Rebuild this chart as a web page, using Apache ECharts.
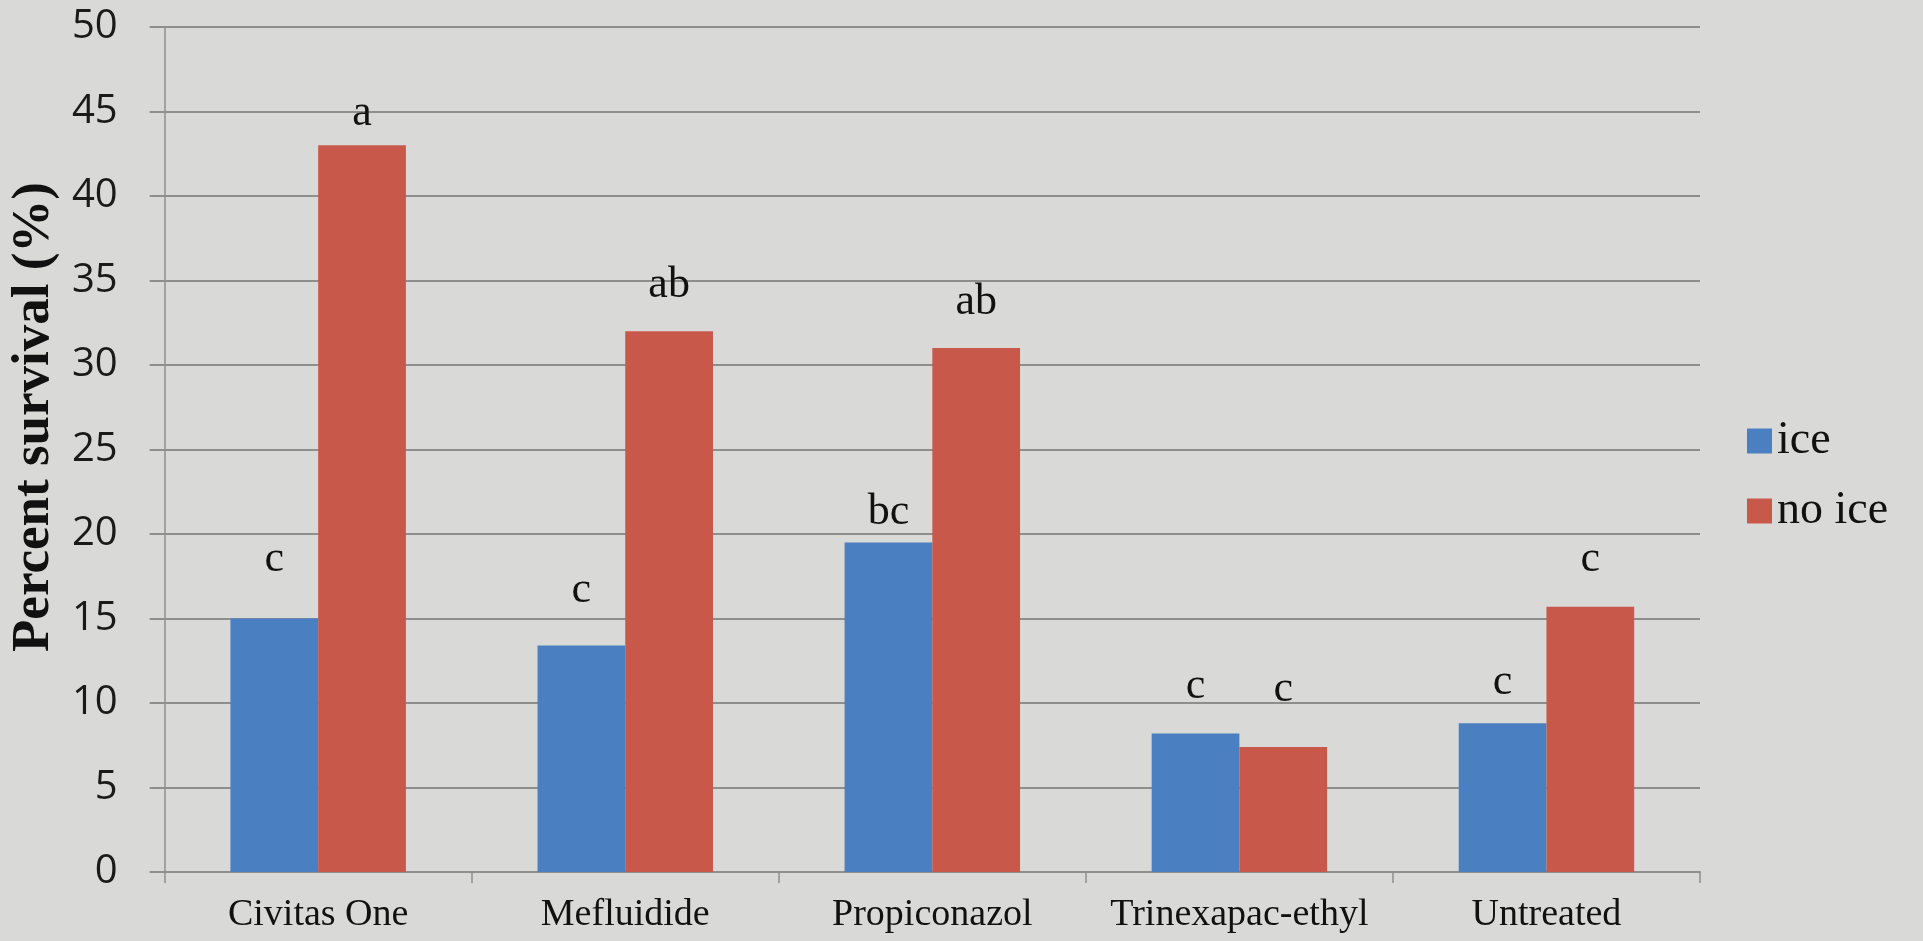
<!DOCTYPE html>
<html>
<head>
<meta charset="utf-8">
<script src="https://cdn.jsdelivr.net/npm/echarts@6/dist/echarts.min.js"></script>
<style>
html,body{margin:0;padding:0;background:#D9D9D7;}
#chart{width:1923px;height:941px;}
</style>
</head>
<body>
<div id="chart"></div>
<script>
// ---- data ----
const categories = ['Civitas One', 'Mefluidide', 'Propiconazol', 'Trinexapac-ethyl', 'Untreated'];
const seriesNames = ['ice', 'no ice'];
const iceValues = [15, 13.4, 19.5, 8.2, 8.8];
const noIceValues = [43, 32, 31, 7.4, 15.7];
// significance letters and the level (percent) of each letter's baseline
const iceLetters = ['c', 'c', 'bc', 'c', 'c'];
const noIceLetters = ['a', 'ab', 'ab', 'c', 'c'];
const iceLetterLevel = [17.6, 15.8, 20.4, 10.1, 10.3];
const noIceLetterLevel = [44.0, 33.8, 32.8, 9.9, 17.6];
const yTicks = [0, 5, 10, 15, 20, 25, 30, 35, 40, 45, 50];

const BLUE = '#4A7FC1';
const RED = '#C8584A';
const GRID = '#8E8E8E';

const gapIce = iceLetterLevel.map((v, i) => +(v - iceValues[i]).toFixed(3));
const gapNoIce = noIceLetterLevel.map((v, i) => +(v - noIceValues[i]).toFixed(3));

function letterLabel(letters) {
  return {
    show: true,
    position: 'top',
    distance: 0,
    offset: [0, 7],
    fontFamily: '"Liberation Serif", "Times New Roman", serif',
    fontSize: 44,
    color: '#111',
    formatter: p => letters[p.dataIndex]
  };
}

const chart = echarts.init(document.getElementById('chart'), null, {renderer: 'canvas'});
chart.setOption({
  backgroundColor: '#D9D9D7',
  animation: false,
  grid: {left: 164, right: 223, top: 27, bottom: 69, containLabel: false},
  legend: {
    data: seriesNames,
    orient: 'vertical',
    left: 1742,
    top: 413,
    itemWidth: 25,
    itemHeight: 25,
    itemGap: 24,
    icon: 'rect',
    textStyle: {
      fontFamily: '"Liberation Serif", "Times New Roman", serif',
      fontSize: 46,
      lineHeight: 46,
      color: '#111',
      padding: [0, 0, 0, 0]
    }
  },
  xAxis: {
    type: 'category',
    data: categories,
    axisLine: {show: true, lineStyle: {color: GRID, width: 2}},
    axisTick: {show: true, interval: 0, length: 11, lineStyle: {color: GRID, width: 1.5}},
    axisLabel: {
      interval: 0,
      margin: 24,
      fontFamily: '"Liberation Serif", "Times New Roman", serif',
      fontSize: 38,
      color: '#111'
    },
    splitLine: {show: false}
  },
  yAxis: {
    type: 'value',
    min: yTicks[0],
    max: yTicks[yTicks.length - 1],
    interval: yTicks[1] - yTicks[0],
    name: 'Percent survival (%)',
    nameLocation: 'middle',
    nameGap: 102,
    nameTextStyle: {
      fontFamily: '"Liberation Serif", "Times New Roman", serif',
      fontWeight: 'bold',
      fontSize: 53,
      color: '#111',
      padding: [0, 0, 0, 65]
    },
    axisLine: {show: true, lineStyle: {color: GRID, width: 1.5}},
    axisTick: {show: true, length: 15, lineStyle: {color: GRID, width: 2}},
    axisLabel: {
      margin: 47,
      fontFamily: '"Open Sans", sans-serif',
      fontSize: 40,
      color: '#1a1a1a'
    },
    splitLine: {show: true, lineStyle: {color: GRID, width: 2}}
  },
  series: [
    {
      name: 'ice', type: 'bar', stack: 'ice', data: iceValues,
      barGap: '0%', barCategoryGap: '42.857%',
      itemStyle: {color: BLUE},
      emphasis: {disabled: true}
    },
    {
      name: 'ice-letter', type: 'bar', stack: 'ice', data: gapIce,
      itemStyle: {color: 'rgba(0,0,0,0)'},
      label: letterLabel(iceLetters),
      emphasis: {disabled: true}, silent: true
    },
    {
      name: 'no ice', type: 'bar', stack: 'noice', data: noIceValues,
      barGap: '0%', barCategoryGap: '42.857%',
      itemStyle: {color: RED},
      emphasis: {disabled: true}
    },
    {
      name: 'noice-letter', type: 'bar', stack: 'noice', data: gapNoIce,
      itemStyle: {color: 'rgba(0,0,0,0)'},
      label: letterLabel(noIceLetters),
      emphasis: {disabled: true}, silent: true
    }
  ]
});
</script>
</body>
</html>
